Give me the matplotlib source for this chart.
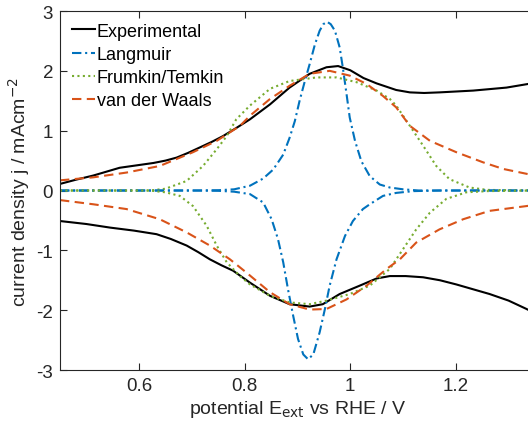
import matplotlib
matplotlib.use("Agg")
import matplotlib.pyplot as plt

plt.rcParams['font.family'] = ['Liberation Sans', 'DejaVu Sans']
plt.rcParams['axes.unicode_minus'] = False

# Experimental CV (anodic / cathodic branch)
exp_up_x = [0.45, 0.48, 0.513, 0.54, 0.563, 0.595, 0.627, 0.65, 0.671, 0.693, 0.715, 0.737, 0.759,
            0.785, 0.81, 0.848, 0.885, 0.923, 0.955, 0.977, 1.0, 1.025, 1.05, 1.087, 1.113, 1.14,
            1.169, 1.233, 1.296, 1.35]
exp_up_y = [0.11, 0.18, 0.25, 0.32, 0.38, 0.42, 0.46, 0.50, 0.55, 0.63, 0.72, 0.81, 0.91,
            1.05, 1.19, 1.44, 1.72, 1.95, 2.06, 2.08, 2.01, 1.88, 1.79, 1.68, 1.64, 1.63,
            1.64, 1.67, 1.72, 1.80]
exp_dn_x = [0.45, 0.50, 0.545, 0.59, 0.633, 0.66, 0.69, 0.712, 0.734, 0.756, 0.778, 0.81, 0.848,
            0.885, 0.923, 0.948, 0.98, 1.018, 1.05, 1.075, 1.105, 1.138, 1.17, 1.201, 1.264,
            1.30, 1.334, 1.35]
exp_dn_y = [-0.51, -0.56, -0.62, -0.67, -0.73, -0.81, -0.92, -1.03, -1.15, -1.25, -1.34, -1.54, -1.76,
            -1.90, -1.94, -1.90, -1.73, -1.59, -1.47, -1.43, -1.43, -1.45, -1.50, -1.57, -1.73,
            -1.84, -1.98, -2.05]

# Langmuir model
lang_up_x = [0.45, 0.70, 0.75, 0.78, 0.81, 0.835, 0.854, 0.873, 0.885, 0.895, 0.904, 0.914, 0.923,
             0.933, 0.942, 0.949, 0.956, 0.963, 0.971, 0.980, 0.986, 0.993, 0.999, 1.009, 1.021,
             1.037, 1.056, 1.075, 1.10, 1.13, 1.35]
lang_up_y = [0.0, 0.0, 0.005, 0.02, 0.08, 0.2, 0.35, 0.60, 0.88, 1.16, 1.50, 1.83, 2.11,
             2.44, 2.67, 2.78, 2.82, 2.78, 2.67, 2.39, 2.05, 1.61, 1.22, 0.83, 0.49,
             0.24, 0.10, 0.05, 0.02, 0.0, 0.0]
lang_dn_x = [0.45, 0.70, 0.75, 0.78, 0.81, 0.835, 0.851, 0.863, 0.873, 0.882, 0.892, 0.901, 0.911,
             0.920, 0.930, 0.942, 0.952, 0.961, 0.974, 0.990, 1.005, 1.024, 1.037, 1.062, 1.087,
             1.12, 1.17, 1.35]
lang_dn_y = [0.0, 0.0, -0.005, -0.02, -0.06, -0.20, -0.48, -0.81, -1.20, -1.65, -2.10, -2.48, -2.74,
             -2.82, -2.74, -2.37, -1.98, -1.59, -1.15, -0.76, -0.51, -0.31, -0.23, -0.09, -0.04,
             -0.01, 0.0, 0.0]

# Frumkin/Temkin model
frum_up_x = [0.45, 0.62, 0.65, 0.69, 0.721, 0.747, 0.766, 0.784, 0.81, 0.848, 0.885, 0.936,
             0.974, 1.012, 1.05, 1.075, 1.087, 1.113, 1.138, 1.163, 1.188, 1.226, 1.26, 1.35]
frum_up_y = [0.0, 0.0, 0.03, 0.16, 0.41, 0.69, 0.91, 1.19, 1.42, 1.70, 1.83, 1.89,
             1.89, 1.81, 1.67, 1.53, 1.42, 1.08, 0.75, 0.41, 0.19, 0.05, 0.01, 0.0]
frum_dn_x = [0.45, 0.62, 0.65, 0.677, 0.702, 0.728, 0.747, 0.766, 0.791, 0.81, 0.848, 0.885,
             0.923, 0.955, 0.999, 1.037, 1.075, 1.10, 1.125, 1.151, 1.182, 1.22, 1.26, 1.35]
frum_dn_y = [0.0, 0.0, -0.03, -0.09, -0.26, -0.59, -0.92, -1.20, -1.43, -1.57, -1.76, -1.87,
             -1.90, -1.84, -1.73, -1.59, -1.31, -0.98, -0.65, -0.37, -0.14, -0.03, -0.01, 0.0]

# van der Waals model
vdw_up_x = [0.45, 0.513, 0.576, 0.639, 0.702, 0.747, 0.791, 0.81, 0.848, 0.885, 0.923, 0.961,
            0.999, 1.031, 1.062, 1.087, 1.113, 1.151, 1.201, 1.252, 1.29, 1.35]
vdw_up_y = [0.17, 0.22, 0.30, 0.41, 0.64, 0.83, 1.08, 1.25, 1.53, 1.75, 1.95, 2.00,
            1.92, 1.78, 1.58, 1.39, 1.08, 0.83, 0.64, 0.47, 0.36, 0.25]
vdw_dn_x = [0.45, 0.513, 0.576, 0.639, 0.69, 0.734, 0.772, 0.803, 0.848, 0.885, 0.923, 0.955,
            0.993, 1.031, 1.069, 1.094, 1.125, 1.169, 1.214, 1.264, 1.334, 1.35]
vdw_dn_y = [-0.16, -0.23, -0.31, -0.48, -0.70, -0.92, -1.15, -1.37, -1.70, -1.90, -1.99, -1.98,
            -1.82, -1.59, -1.31, -1.15, -0.87, -0.65, -0.48, -0.34, -0.26, -0.24]

xticks = [0.6, 0.8, 1.0, 1.2]
xticklabels = ['0.6', '0.8', '1', '1.2']
yticks = [-3, -2, -1, 0, 1, 2, 3]

c_blue = '#0072BD'
c_orange = '#D95319'
c_green = '#77AC30'

fig = plt.figure(figsize=(5.28, 4.35), dpi=100)
ax = fig.add_axes([0.1136, 0.1471, 0.8996, 0.8253])

lw = 1.5
ax.plot(exp_up_x, exp_up_y, color='black', lw=lw, label='Experimental')
ax.plot(lang_up_x, lang_up_y, color=c_blue, lw=lw, dashes=(4.5, 1.8, 1.0, 1.8), label='Langmuir')
ax.plot(frum_up_x, frum_up_y, color=c_green, lw=lw, dashes=(1.0, 1.6), label='Frumkin/Temkin')
ax.plot(vdw_up_x, vdw_up_y, color=c_orange, lw=lw, dashes=(4.5, 2.6), label='van der Waals')

ax.plot(exp_dn_x, exp_dn_y, color='black', lw=lw)
ax.plot(lang_dn_x, lang_dn_y, color=c_blue, lw=lw, dashes=(4.5, 1.8, 1.0, 1.8))
ax.plot(frum_dn_x, frum_dn_y, color=c_green, lw=lw, dashes=(1.0, 1.6))
ax.plot(vdw_dn_x, vdw_dn_y, color=c_orange, lw=lw, dashes=(4.5, 2.6))

ax.set_xlim(0.45, 1.35)
ax.set_ylim(-3, 3)
ax.set_xticks(xticks)
ax.set_xticklabels(xticklabels)
ax.set_yticks(yticks)
ax.tick_params(direction='in', top=True, right=True, labelsize=13.5, colors='#262626',
               length=5, width=0.8, pad=5)
for s in ax.spines.values():
    s.set_color('#262626')
    s.set_linewidth(0.8)

ax.set_xlabel('potential E$_{\\mathrm{ext}}$ vs RHE / V', fontsize=14, color='#262626', labelpad=3)
ax.set_ylabel('current density j / mAcm$^{\\mathrm{-2}}$', fontsize=14, color='#262626', labelpad=3)

ax.legend(loc='upper left', bbox_to_anchor=(0.0, 1.0), frameon=False, fontsize=13,
          handlelength=1.3, handletextpad=0.08, labelspacing=0.34, borderaxespad=0.25)

fig.savefig('out.png', dpi=100)
